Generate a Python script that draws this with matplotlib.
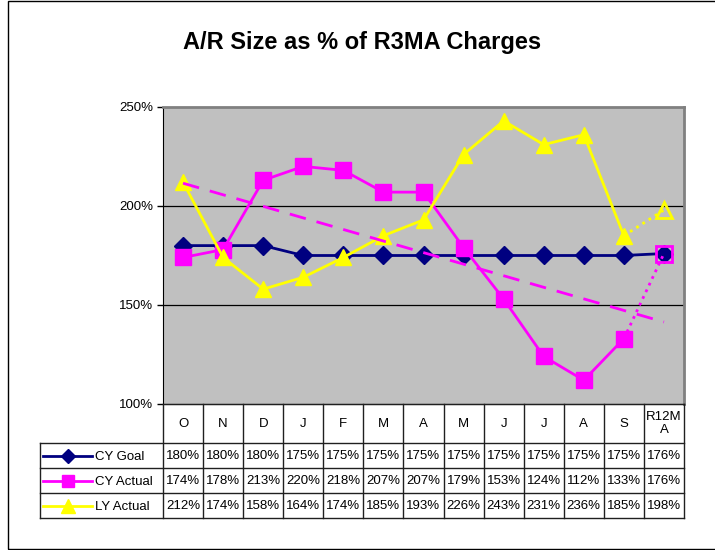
import numpy as np
import matplotlib
matplotlib.use('Agg')
import matplotlib.pyplot as plt
from matplotlib.patches import Rectangle

months = ['O', 'N', 'D', 'J', 'F', 'M', 'A', 'M', 'J', 'J', 'A', 'S', 'R12M\nA']
cy_goal = [180, 180, 180, 175, 175, 175, 175, 175, 175, 175, 175, 175, 176]
cy_actual = [174, 178, 213, 220, 218, 207, 207, 179, 153, 124, 112, 133, 176]
ly_actual = [212, 174, 158, 164, 174, 185, 193, 226, 243, 231, 236, 185, 198]
series_names = ['CY Goal', 'CY Actual', 'LY Actual']
y_ticks = [100, 150, 200, 250]

NAVY = '#000080'
MAGENTA = '#FF00FF'
YELLOW = '#FFFF00'

W, H = 715, 550
FS = 9.5


def px_box(x0, y0, x1, y1):
    """pixel box (top-left origin) -> figure fraction rect"""
    return [x0 / W, 1 - y1 / H, (x1 - x0) / W, (y1 - y0) / H]


def main():
    plt.rcParams['font.family'] = ['Liberation Sans', 'DejaVu Sans']
    fig = plt.figure(figsize=(W / 100, H / 100), dpi=100)

    # outer chart frame
    fig.patches.append(Rectangle((8 / W, 1 / H), 1.0, 1 - 2 / H,
                                 transform=fig.transFigure, fill=False,
                                 ec='black', lw=1))

    fig.text(362 / W, 1 - 43 / H, 'A/R Size as % of R3MA Charges',
             ha='center', va='center', fontsize=17, fontweight='bold')

    x = np.arange(len(months))
    n = len(months) - 1

    ax = fig.add_axes(px_box(163, 107, 684, 404))
    ax.set_facecolor('#C0C0C0')
    ax.set_xlim(-0.5, n + 0.5)
    ax.set_ylim(y_ticks[0], y_ticks[-1])
    ax.set_yticks(y_ticks)
    ax.set_yticklabels([f'{v}%' for v in y_ticks])
    ax.set_xticks([])
    ax.tick_params(axis='y', length=4, width=1, labelsize=FS, pad=3)
    for v in y_ticks[1:-1]:
        ax.axhline(v, color='black', lw=0.9, zorder=1)
    ax.spines['left'].set_color('black')
    ax.spines['bottom'].set_color('black')
    for s in ('top', 'right'):
        ax.spines[s].set_color('#808080')
        ax.spines[s].set_linewidth(2)

    ax.plot(x, cy_goal, color=NAVY, lw=2, marker='D', ms=9, zorder=3)

    ax.plot(x[:n], cy_actual[:n], color=MAGENTA, lw=2, marker='s',
            ms=11, zorder=4)
    ax.plot(x[n - 1:], cy_actual[n - 1:], color=MAGENTA, lw=2, ls=':', zorder=4)
    ax.plot(x[n], cy_actual[n], marker='s', ms=11, mfc='none', mec=MAGENTA,
            mew=2, ls='none', zorder=4)

    ax.plot(x[:n], ly_actual[:n], color=YELLOW, lw=2, marker='^', ms=12,
            zorder=5)
    ax.plot(x[n - 1:], ly_actual[n - 1:], color=YELLOW, lw=2, ls=':', zorder=5)
    ax.plot(x[n], ly_actual[n], marker='^', ms=12, mfc='none', mec=YELLOW,
            mew=2, ls='none', zorder=5)

    # linear trendline of CY Actual
    coef = np.polyfit(x, cy_actual, 1)
    ax.plot(x, np.polyval(coef, x), color=MAGENTA, lw=2, dashes=(6, 4),
            zorder=6)

    # data table below the plot
    col_w = (684 - 163) / len(months)
    hdr_w = (163 - 40) / col_w
    x_left = -0.5 - hdr_w
    rows_y = [404, 443, 468, 493, 518]
    tax = fig.add_axes(px_box(40, 404, 684, 518))
    tax.set_xlim(x_left, n + 0.5)
    tax.set_ylim(rows_y[-1], rows_y[0])
    tax.axis('off')
    lc = '#202020'
    tax.plot([-0.5, n + 0.5], [rows_y[0]] * 2, color=lc, lw=1, clip_on=False)
    for yy in rows_y[1:]:
        tax.plot([x_left, n + 0.5], [yy, yy], color=lc, lw=1, clip_on=False)
    for i in range(len(months) + 1):
        tax.plot([i - 0.5] * 2, [rows_y[0], rows_y[-1]], color=lc, lw=1,
                 clip_on=False)
    tax.plot([x_left] * 2, [rows_y[1], rows_y[-1]], color=lc, lw=1,
             clip_on=False)

    for i, m in enumerate(months):
        tax.text(i, (rows_y[0] + rows_y[1]) / 2, m, ha='center', va='center',
                 fontsize=FS, linespacing=1.1)

    series = [cy_goal, cy_actual, ly_actual]
    styles = [(NAVY, 'D', 7), (MAGENTA, 's', 9), (YELLOW, '^', 10)]
    for r, (vals, name, (c, mk, ms)) in enumerate(zip(series, series_names, styles)):
        yc = (rows_y[r + 1] + rows_y[r + 2]) / 2
        for i, v in enumerate(vals):
            tax.text(i, yc + 0.5, f'{v}%', ha='center', va='center', fontsize=FS)
        x0 = x_left + 3 / col_w
        x1 = x_left + 52 / col_w
        tax.plot([x0, x1], [yc, yc], color=c, lw=2)
        tax.plot([(x0 + x1) / 2], [yc], color=c, marker=mk, ms=ms)
        tax.text(x_left + 55 / col_w, yc + 1, name, ha='left', va='center',
                 fontsize=FS)

    fig.savefig('out.png', dpi=100)


if __name__ == "__main__":
    main()
